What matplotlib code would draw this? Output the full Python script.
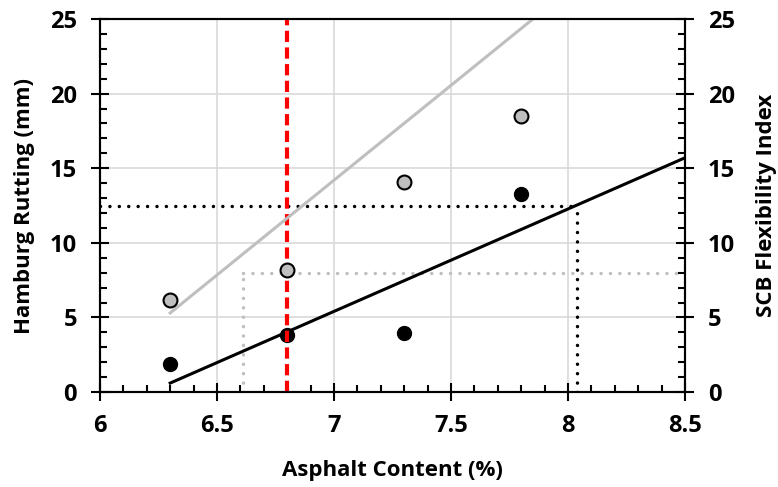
import numpy as np
import matplotlib.pyplot as plt
from matplotlib.ticker import MultipleLocator, FormatStrFormatter

plt.rcParams['font.family'] = ['Open Sans', 'DejaVu Sans']
plt.rcParams['font.weight'] = 'bold'

# data
asphalt = [6.3, 6.8, 7.3, 7.8]
rutting = [1.9, 3.8, 3.95, 13.3]        # Hamburg rutting (mm), black
flex_index = [6.2, 8.2, 14.1, 18.5]     # SCB flexibility index, gray

rut_trend_x = [6.3, 8.5]
rut_trend_y = [0.6, 15.7]
fi_trend_x = [6.3, 7.85]
fi_trend_y = [5.3, 25.0]

opt_ac = 6.8
rut_limit = 12.5
rut_limit_ac = 8.04
fi_limit = 8.0
fi_limit_ac = 6.61

fig = plt.figure(figsize=(7.78, 4.87), dpi=100)
ax = fig.add_axes([0.1285, 0.195, 0.752, 0.766])
ax2 = ax.twinx()

gray = '#BFBFBF'
dots = (0, (0.01, 2.7))

ax.grid(True, color='#D9D9D9', linewidth=1.2, zorder=0)
ax.set_axisbelow(True)

# limit lines
ax.plot([6, rut_limit_ac], [rut_limit, rut_limit], color='black', lw=2.5,
        linestyle=dots, dash_capstyle='round', zorder=2)
ax.plot([rut_limit_ac, rut_limit_ac], [0, rut_limit], color='black', lw=2.5,
        linestyle=dots, dash_capstyle='round', zorder=2)
ax.plot([fi_limit_ac, 8.5], [fi_limit, fi_limit], color=gray, lw=2.5,
        linestyle=dots, dash_capstyle='round', zorder=2)
ax.plot([fi_limit_ac, fi_limit_ac], [0, fi_limit], color=gray, lw=2.5,
        linestyle=dots, dash_capstyle='round', zorder=2)

ax.plot(asphalt, rutting, 'o', color='black', markersize=10, zorder=3)
ax.plot(rut_trend_x, rut_trend_y, color='black', lw=2.2, zorder=4)
ax.axvline(opt_ac, color='#FF0000', lw=3, linestyle=(0, (2.7, 1.3)), zorder=5)
ax.plot(fi_trend_x, fi_trend_y, color=gray, lw=2.2, zorder=6)
ax.plot(asphalt, flex_index, 'o', color=gray, markeredgecolor='black',
        markeredgewidth=1.5, markersize=10, zorder=7)

ax.set_xlim(6, 8.5)
ax.set_ylim(0, 25)
ax2.set_ylim(0, 25)

ax.xaxis.set_major_locator(MultipleLocator(0.5))
ax.xaxis.set_minor_locator(MultipleLocator(0.1))
ax.xaxis.set_major_formatter(FormatStrFormatter('%g'))
for a in (ax, ax2):
    a.yaxis.set_major_locator(MultipleLocator(5))
    a.yaxis.set_minor_locator(MultipleLocator(1))
    a.tick_params(which='major', direction='inout', length=13, width=1.5,
                  labelsize=17, pad=10)
    a.tick_params(which='minor', direction='in', length=5, width=1.5)
    for s in a.spines.values():
        s.set_linewidth(1.5)
    for lab in a.get_xticklabels() + a.get_yticklabels():
        lab.set_fontweight('bold')
ax.tick_params(axis='x', which='major', pad=9)

ax.set_xlabel('Asphalt Content (%)', fontsize=16, fontweight='bold', labelpad=16)
ax.set_ylabel('Hamburg Rutting (mm)', fontsize=16, fontweight='bold', labelpad=11)
ax2.set_ylabel('SCB Flexibility Index', fontsize=16, fontweight='bold', labelpad=15)

fig.savefig('out.png', dpi=100)
